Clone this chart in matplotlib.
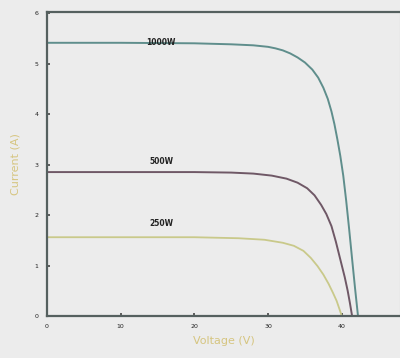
import matplotlib
matplotlib.use("Agg")
import matplotlib.pyplot as plt

# Data (Voltage V, Current A)
v_1000 = [0, 10, 20, 25, 28, 30, 31, 32, 33, 34, 35, 36, 36.8, 37.5, 38.1, 38.6, 39.0,
          39.4, 39.8, 40.2, 40.6, 41.0, 41.4, 41.8, 42.2]
i_1000 = [5.41, 5.41, 5.40, 5.38, 5.36, 5.33, 5.30, 5.26, 5.20, 5.12, 5.02, 4.88, 4.72,
          4.52, 4.30, 4.05, 3.80, 3.50, 3.17, 2.78, 2.28, 1.72, 1.13, 0.55, 0.0]

v_500 = [0, 10, 20, 25, 28, 30.5, 32.5, 34, 35.3, 36.3, 37.2, 37.9, 38.6, 39.2, 39.8,
         40.4, 40.8, 41.1, 41.4]
i_500 = [2.85, 2.85, 2.85, 2.84, 2.82, 2.78, 2.72, 2.64, 2.53, 2.39, 2.20, 2.02, 1.78,
         1.47, 1.12, 0.77, 0.50, 0.26, 0.0]

v_250 = [0, 10, 20, 26, 29.5, 32, 33.5, 34.8, 35.8, 36.7, 37.5, 38.2, 38.8, 39.3, 39.7, 40.0]
i_250 = [1.56, 1.56, 1.56, 1.54, 1.51, 1.45, 1.39, 1.29, 1.15, 0.99, 0.82, 0.64, 0.46,
         0.30, 0.13, 0.0]

labels = ["1000W", "500W", "250W"]
label_pos = [(15.5, 5.41), (15.5, 3.05), (15.5, 1.83)]

x_ticks = [0, 10, 20, 30, 40]
y_ticks = [0, 1, 2, 3, 4, 5, 6]

bg = "#ececec"
fig = plt.figure(figsize=(4.0, 3.58), dpi=100, facecolor=bg)
ax = fig.add_axes([0.1175, 0.1173, 0.8825, 0.8492], facecolor=bg)

ax.plot(v_1000, i_1000, color="#5f8e8c", lw=1.4, solid_capstyle="round", solid_joinstyle="round")
ax.plot(v_500, i_500, color="#6f5866", lw=1.4, solid_capstyle="round", solid_joinstyle="round")
ax.plot(v_250, i_250, color="#c9c98a", lw=1.3, solid_capstyle="round", solid_joinstyle="round")

for txt, (x, y) in zip(labels, label_pos):
    ax.text(x, y, txt, fontsize=5.5, fontweight="bold", color="#222222",
            ha="center", va="center")

ax.set_xlim(0, 47.9)
ax.set_ylim(0, 6.02)
ax.set_xticks(x_ticks)
ax.set_yticks(y_ticks)
ax.set_xticklabels([str(t) for t in x_ticks])
ax.set_yticklabels([str(t) for t in y_ticks])
ax.tick_params(axis="both", direction="in", length=2, width=1.2, color="#444444",
               labelsize=4.5, labelcolor="#222222", pad=6)

for s in ["left", "bottom", "top"]:
    ax.spines[s].set_color("#55605f")
    ax.spines[s].set_linewidth(1.6)
ax.spines["right"].set_color("#b8c4c4")
ax.spines["right"].set_linewidth(0.8)

ax.set_xlabel("Voltage (V)", fontsize=8, color="#d6c580", labelpad=5)
ax.set_ylabel("Current (A)", fontsize=8, color="#d6c580", labelpad=10)

fig.savefig("out.png", dpi=100, facecolor=bg)
